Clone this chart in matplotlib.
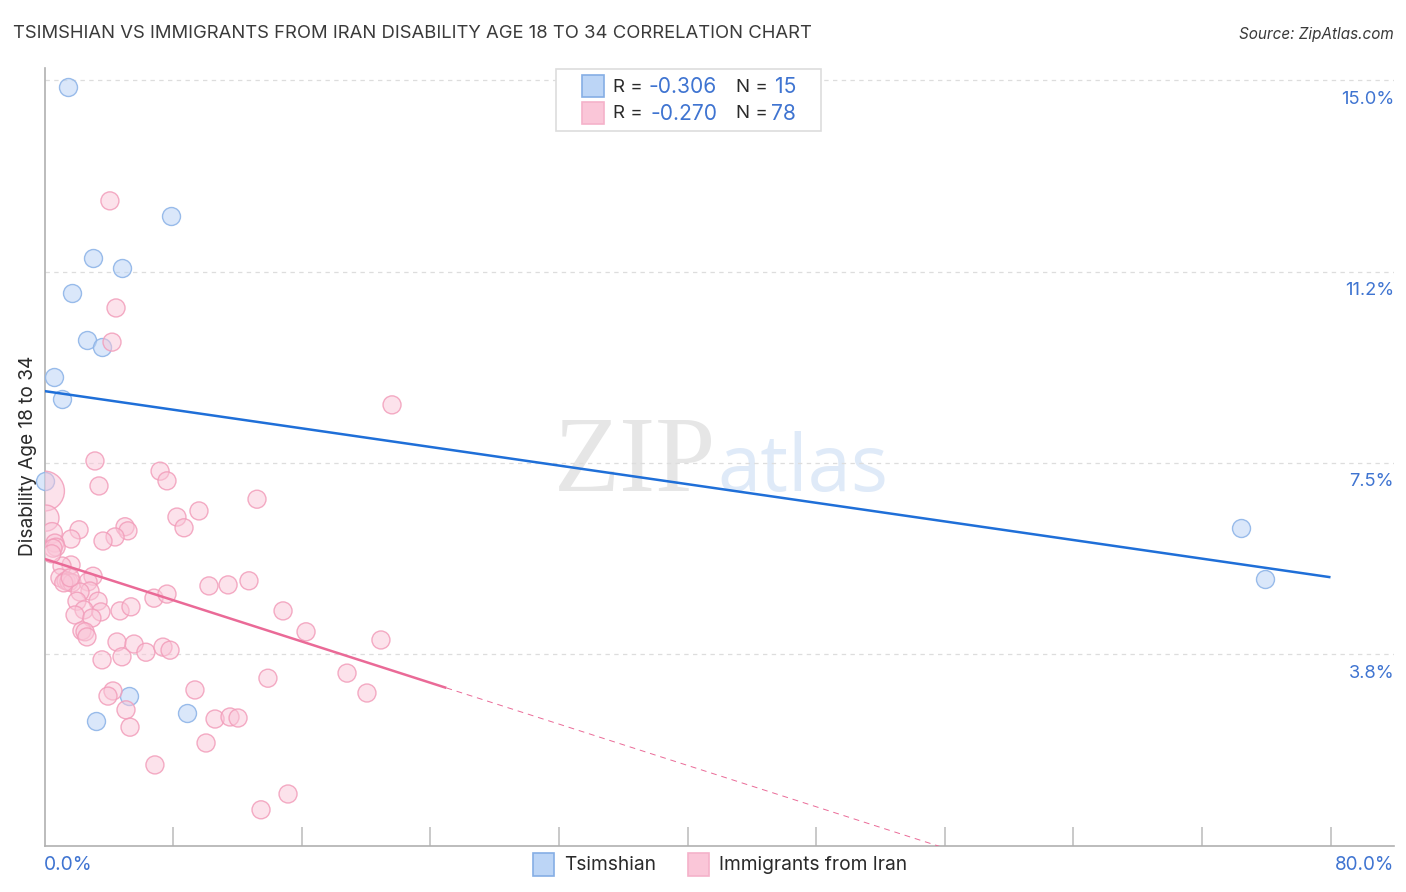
import matplotlib
matplotlib.use("Agg")
import matplotlib.pyplot as plt
from matplotlib.colors import to_rgba
from matplotlib.patches import Rectangle

W, H = 1406, 892
plt.rcParams['font.family'] = ['Inter', 'DejaVu Sans']

title = "TSIMSHIAN VS IMMIGRANTS FROM IRAN DISABILITY AGE 18 TO 34 CORRELATION CHART"
source = "Source: ZipAtlas.com"
ylabel = "Disability Age 18 to 34"
series_names = ["Tsimshian", "Immigrants from Iran"]
stats_r = ["-0.306", "-0.270"]
stats_n = ["15", "78"]

blue_x = [1.46, 7.87, 3.02, 4.82, 1.71, 2.64, 3.58, 0.59, 1.09, 0.03, 74.43, 75.93, 5.26, 8.86, 3.20]
blue_y = [14.87, 12.34, 11.52, 11.32, 10.83, 9.91, 9.77, 9.19, 8.75, 7.15, 6.23, 5.23, 2.93, 2.60, 2.44]

pink_x = [4.07, 4.45, 4.20, 21.62, 3.14, 7.19, 7.62, 3.39, 13.22, 9.61,
          8.24, 8.68, 5.01, 5.19, 2.15, 4.39, 3.64, 1.65, 0.0, 0.09,
          0.47, 0.65, 0.72, 0.53, 1.65, 1.09, 0.96, 1.34, 1.52, 1.71,
          3.02, 2.71, 2.83, 2.21, 2.02, 3.33, 2.46, 3.51, 4.70, 5.38,
          6.81, 7.62, 10.23, 11.42, 12.72, 14.84, 1.90, 2.95, 2.33, 2.52,
          2.64, 16.27, 20.93, 4.51, 5.57, 6.31, 7.37, 7.81, 4.82, 3.58,
          13.90, 18.82, 20.06, 9.36, 4.26, 3.95, 5.07, 10.61, 11.54, 12.04,
          5.32, 10.05, 6.87, 15.15, 13.47, 0.45, 1.20, 1.60]
pink_y = [12.64, 10.54, 9.87, 8.64, 7.54, 7.34, 7.15, 7.05, 6.79, 6.56,
          6.44, 6.23, 6.25, 6.17, 6.19, 6.05, 5.97, 6.01, 6.95, 6.42,
          6.13, 5.93, 5.85, 5.83, 5.50, 5.48, 5.25, 5.19, 5.17, 5.15,
          5.28, 5.17, 4.99, 4.97, 4.79, 4.79, 4.62, 4.58, 4.60, 4.68,
          4.85, 4.93, 5.09, 5.11, 5.19, 4.60, 4.52, 4.46, 4.21, 4.19,
          4.09, 4.19, 4.03, 3.99, 3.95, 3.79, 3.89, 3.83, 3.70, 3.64,
          3.28, 3.38, 2.99, 3.05, 3.03, 2.93, 2.66, 2.48, 2.52, 2.50,
          2.32, 2.01, 1.58, 1.01, 0.70, 5.72, 5.15, 5.25]
# relative bubble weight; most points carry weight 1
pink_w = [1.0] * 78
pink_w[18] = 4.9
pink_w[19] = 2.1
pink_w[20] = 1.3

blue_fit_x = [0, 80]
blue_fit_y = [8.91, 5.26]
pink_fit_x = [0, 25]
pink_fit_y = [5.62, 3.09]
pink_ext_x = [25, 56]
pink_ext_y = [3.09, -0.05]

xticks = [0, 8, 16, 24, 32, 40, 48, 56, 64, 72, 80]
grid_vals = [3.75, 7.5, 11.25, 15.0]
grid_labels = ["3.8%", "7.5%", "11.2%", "15.0%"]

BLUE_FILL, BLUE_EDGE = '#bcd5f6', '#8fb5e8'
PINK_FILL, PINK_EDGE = '#fac6d8', '#f29dba'
BLUE_LINE, PINK_LINE = '#1f6fd8', '#ea6a97'
TXT_BLUE, TXT = '#3f74d1', '#2a2a2a'
AX_GRAY = '#b0b0b0'


def fx(p):
    return p / W


def fy(p):
    return 1 - p / H


fig = plt.figure(figsize=(W / 100, H / 100), dpi=100, facecolor='white')
ax = fig.add_axes([fx(44.5), fy(845.5), fx(1394) - fx(44.5), fy(68) - fy(845.5)])
ax.patch.set_alpha(0)
ax.set_xlim(0, (1394 - 44.5) / 16.075)
ax.set_ylim(0, (845.5 - 68) / 51.0)
for s in ['top', 'right']:
    ax.spines[s].set_visible(False)
for s in ['left', 'bottom']:
    ax.spines[s].set_color(AX_GRAY)
    ax.spines[s].set_linewidth(1.2)
ax.set_xticks(xticks[1:])
ax.tick_params(axis='x', direction='in', length=14, width=1.1, color='#bbbbbb', labelbottom=False)
ax.set_yticks([])
for v in grid_vals:
    ax.axhline(v, color='#dddddd', lw=0.9, ls=(0, (3.5, 3.5)), zorder=1)

fig.text(fx(554), fy(491), 'ZIP', fontsize=78, family='Liberation Serif', color='#e6e6e6', ha='left', va='baseline', zorder=-1)
fig.text(fx(717), fy(491), 'atlas', fontsize=56, family='Open Sans', color='#dfeaf8', ha='left', va='baseline', zorder=-1)

ax.scatter(blue_x, blue_y, s=168, facecolor=to_rgba(BLUE_FILL, 0.55), edgecolor=to_rgba(BLUE_EDGE, 0.9), lw=1.0, zorder=3, clip_on=False)
ax.scatter(pink_x, pink_y, s=[168 * w for w in pink_w], facecolor=to_rgba(PINK_FILL, 0.5), edgecolor=to_rgba(PINK_EDGE, 0.85), lw=1.0, zorder=3)

ax.plot(blue_fit_x, blue_fit_y, color=BLUE_LINE, lw=1.8, zorder=4, solid_capstyle='butt')
ax.plot(pink_fit_x, pink_fit_y, color=PINK_LINE, lw=1.8, zorder=4, solid_capstyle='butt')
ax.plot(pink_ext_x, pink_ext_y, color=PINK_LINE, lw=0.7, ls=(0, (6, 5)), zorder=4)

for v, lab in zip(grid_vals, grid_labels):
    ax.annotate(lab, xy=(1, v), xycoords=('axes fraction', 'data'), xytext=(0, -19), textcoords='offset pixels',
                ha='right', va='center', fontsize=13.2, color=TXT_BLUE)

fig.text(fx(13), fy(34), title, fontsize=13.3, color='#3a3a3a', ha='left', va='center')
fig.text(fx(1394), fy(34), source, fontsize=11, style='italic', color='#3a3a3a', ha='right', va='center')
fig.text(fx(28), fy(456), ylabel, fontsize=13.75, color=TXT, rotation=90, ha='center', va='center')
fig.text(fx(44), fy(864.5), "0.0%", fontsize=13.9, color=TXT_BLUE, ha='left', va='center')
fig.text(fx(1394), fy(864.5), "80.0%", fontsize=13.6, color=TXT_BLUE, ha='right', va='center')


def box(x0, y0, x1, y1, fc, ec, lw=1.2, z=6):
    fig.add_artist(Rectangle((fx(x0), fy(y1)), fx(x1) - fx(x0), fy(y0) - fy(y1), transform=fig.transFigure,
                             facecolor=fc, edgecolor=ec, lw=lw, zorder=z))


box(555.5, 68.5, 820.5, 130.5, 'white', '#dddddd', lw=1.2, z=5)
for i, (fc, ec) in enumerate([(BLUE_FILL, '#85aee5'), (PINK_FILL, '#f5b2ca')]):
    yc = 86 + 27 * i
    box(581.5, yc - 10.5, 603.5, yc + 10.5, fc, ec)
    fig.text(fx(613), fy(yc + 1), "R =", fontsize=13.5, color=TXT, ha='left', va='center', zorder=7)
    fig.text(fx(717), fy(yc + 1), stats_r[i], fontsize=15.2, color=TXT_BLUE, ha='right', va='center', zorder=7)
    fig.text(fx(736), fy(yc + 1), "N =", fontsize=13.5, color=TXT, ha='left', va='center', zorder=7)
    fig.text(fx(796), fy(yc + 1), stats_n[i], fontsize=15.2, color=TXT_BLUE, ha='right', va='center', zorder=7)

for x0, name, fc, ec in [(532.5, series_names[0], BLUE_FILL, '#85aee5'), (687.5, series_names[1], PINK_FILL, '#f5b2ca')]:
    box(x0, 853.5, x0 + 21, 875.5, fc, ec)
    fig.text(fx(x0 + 31.5), fy(865), name, fontsize=13.8, color=TXT, ha='left', va='center')

fig.savefig('out.png', dpi=100)
